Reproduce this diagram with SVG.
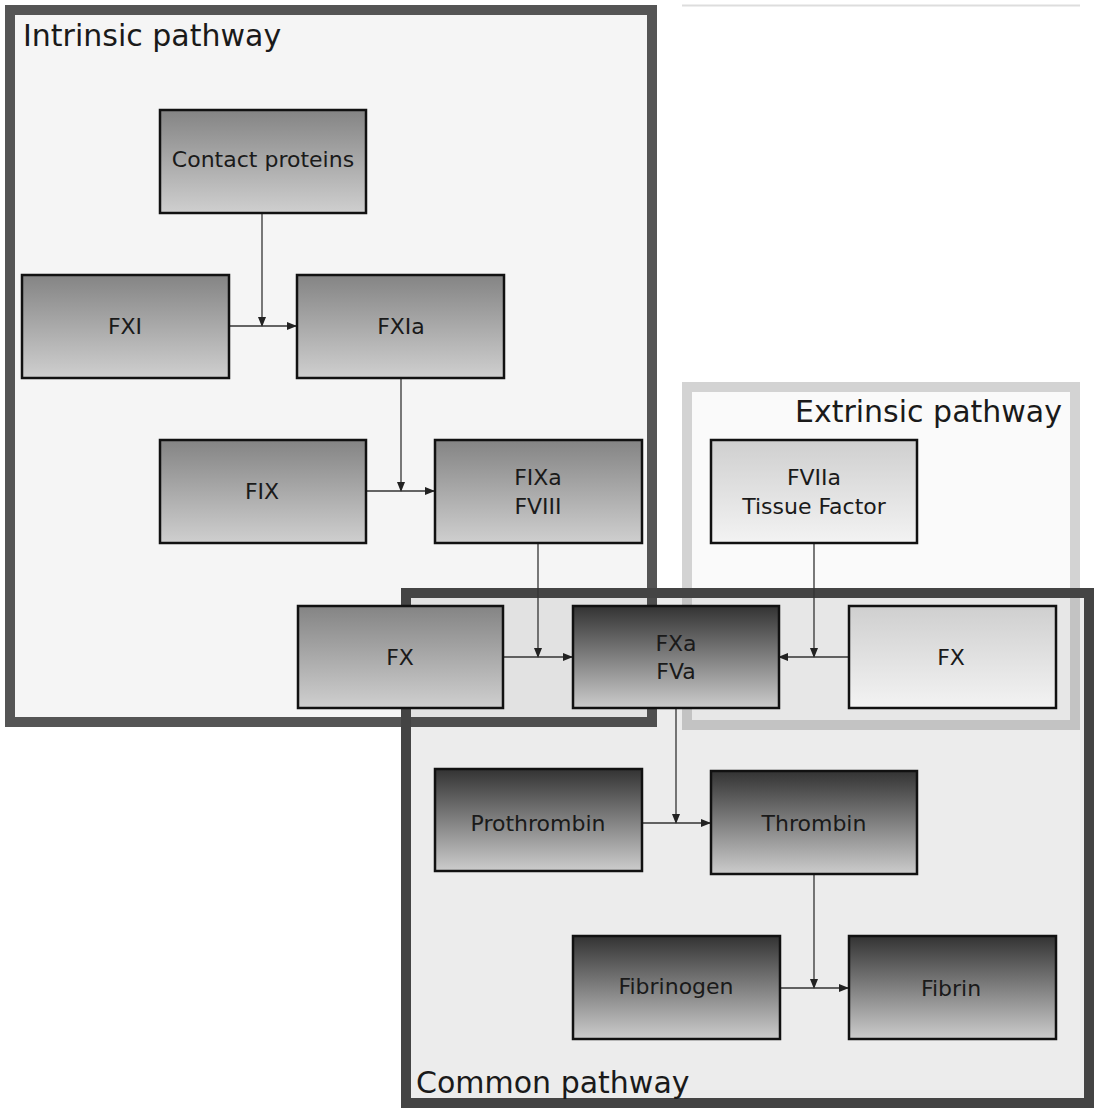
<svg xmlns="http://www.w3.org/2000/svg" width="1096" height="1108" viewBox="0 0 1096 1108">
<defs>
<linearGradient id="gMid" x1="0" y1="0" x2="0" y2="1"><stop offset="0" stop-color="#848484"/><stop offset="1" stop-color="#cfcfcf"/></linearGradient>
<linearGradient id="gLight" x1="0" y1="0" x2="0" y2="1"><stop offset="0" stop-color="#cfcfcf"/><stop offset="1" stop-color="#f3f3f3"/></linearGradient>
<linearGradient id="gDark" x1="0" y1="0" x2="0" y2="1"><stop offset="0" stop-color="#333333"/><stop offset="1" stop-color="#cccccc"/></linearGradient>
<marker id="arr" markerWidth="10" markerHeight="8" refX="9" refY="4" orient="auto" markerUnits="userSpaceOnUse"><path d="M0,0 L10,4 L0,8 z" fill="#222"/></marker>
</defs>
<style>
.node rect{stroke:#111;stroke-width:2.5}
.mid rect{fill:url(#gMid)}
.light rect{fill:url(#gLight)}
.dark rect{fill:url(#gDark)}
text{font-family:"DejaVu Sans",Verdana,sans-serif;fill:#1a1a1a}
.nt{font-size:22px;text-anchor:middle}
.title{font-size:30px}
#connectors path{fill:none;stroke:#333;stroke-width:1.3}
</style>
<rect width="1096" height="1108" fill="#ffffff"/>
<line x1="682" y1="5.5" x2="1080" y2="5.5" stroke="#dddddd" stroke-width="2"/>
<g id="intrinsic">
<rect x="10" y="10" width="642" height="712" fill="#f5f5f5" stroke="#555555" stroke-width="10"/>
<text class="title" x="23" y="46">Intrinsic pathway</text>
</g>
<g id="extrinsic">
<rect x="687" y="387" width="388" height="338" fill="#fafafa" stroke="#d3d3d3" stroke-width="10"/>
<text class="title" x="1062" y="422" text-anchor="end">Extrinsic pathway</text>
</g>
<g id="common">
<rect x="406" y="593" width="683" height="510" fill="#000000" fill-opacity="0.075" stroke="#444444" stroke-width="10"/>
<text class="title" x="416" y="1093">Common pathway</text>
</g>
<g id="connectors">
<path d="M262,213 V326" marker-end="url(#arr)"/>
<path d="M229,326 H296" marker-end="url(#arr)"/>
<path d="M401,378 V491" marker-end="url(#arr)"/>
<path d="M366,491 H434" marker-end="url(#arr)"/>
<path d="M538,543 V657" marker-end="url(#arr)"/>
<path d="M503,657 H572" marker-end="url(#arr)"/>
<path d="M814,543 V657" marker-end="url(#arr)"/>
<path d="M848,657 H779" marker-end="url(#arr)"/>
<path d="M676,708 V823" marker-end="url(#arr)"/>
<path d="M642,823 H710" marker-end="url(#arr)"/>
<path d="M814,874 V988" marker-end="url(#arr)"/>
<path d="M780,988 H848" marker-end="url(#arr)"/>
</g>
<g id="contact" class="node mid"><rect x="160" y="110" width="206" height="103"/><text class="nt" x="263" y="167">Contact proteins</text></g>
<g id="fxi" class="node mid"><rect x="22" y="275" width="207" height="103"/><text class="nt" x="125" y="334">FXI</text></g>
<g id="fxia" class="node mid"><rect x="297" y="275" width="207" height="103"/><text class="nt" x="401" y="334">FXIa</text></g>
<g id="fix" class="node mid"><rect x="160" y="440" width="206" height="103"/><text class="nt" x="262" y="499">FIX</text></g>
<g id="fixa" class="node mid"><rect x="435" y="440" width="207" height="103"/><text class="nt" x="538" y="485">FIXa</text><text class="nt" x="538" y="514">FVIII</text></g>
<g id="fviia" class="node light"><rect x="711" y="440" width="206" height="103"/><text class="nt" x="814" y="485">FVIIa</text><text class="nt" x="814" y="514">Tissue Factor</text></g>
<g id="fx1" class="node mid"><rect x="298" y="606" width="205" height="102"/><text class="nt" x="400" y="665">FX</text></g>
<g id="fxa" class="node dark"><rect x="573" y="606" width="206" height="102"/><text class="nt" x="676" y="651">FXa</text><text class="nt" x="676" y="679">FVa</text></g>
<g id="fx2" class="node light"><rect x="849" y="606" width="207" height="102"/><text class="nt" x="951" y="665">FX</text></g>
<g id="prothrombin" class="node dark"><rect x="435" y="769" width="207" height="102"/><text class="nt" x="538" y="831">Prothrombin</text></g>
<g id="thrombin" class="node dark"><rect x="711" y="771" width="206" height="103"/><text class="nt" x="814" y="831">Thrombin</text></g>
<g id="fibrinogen" class="node dark"><rect x="573" y="936" width="207" height="103"/><text class="nt" x="676" y="994">Fibrinogen</text></g>
<g id="fibrin" class="node dark"><rect x="849" y="936" width="207" height="103"/><text class="nt" x="951" y="996">Fibrin</text></g>
</svg>
